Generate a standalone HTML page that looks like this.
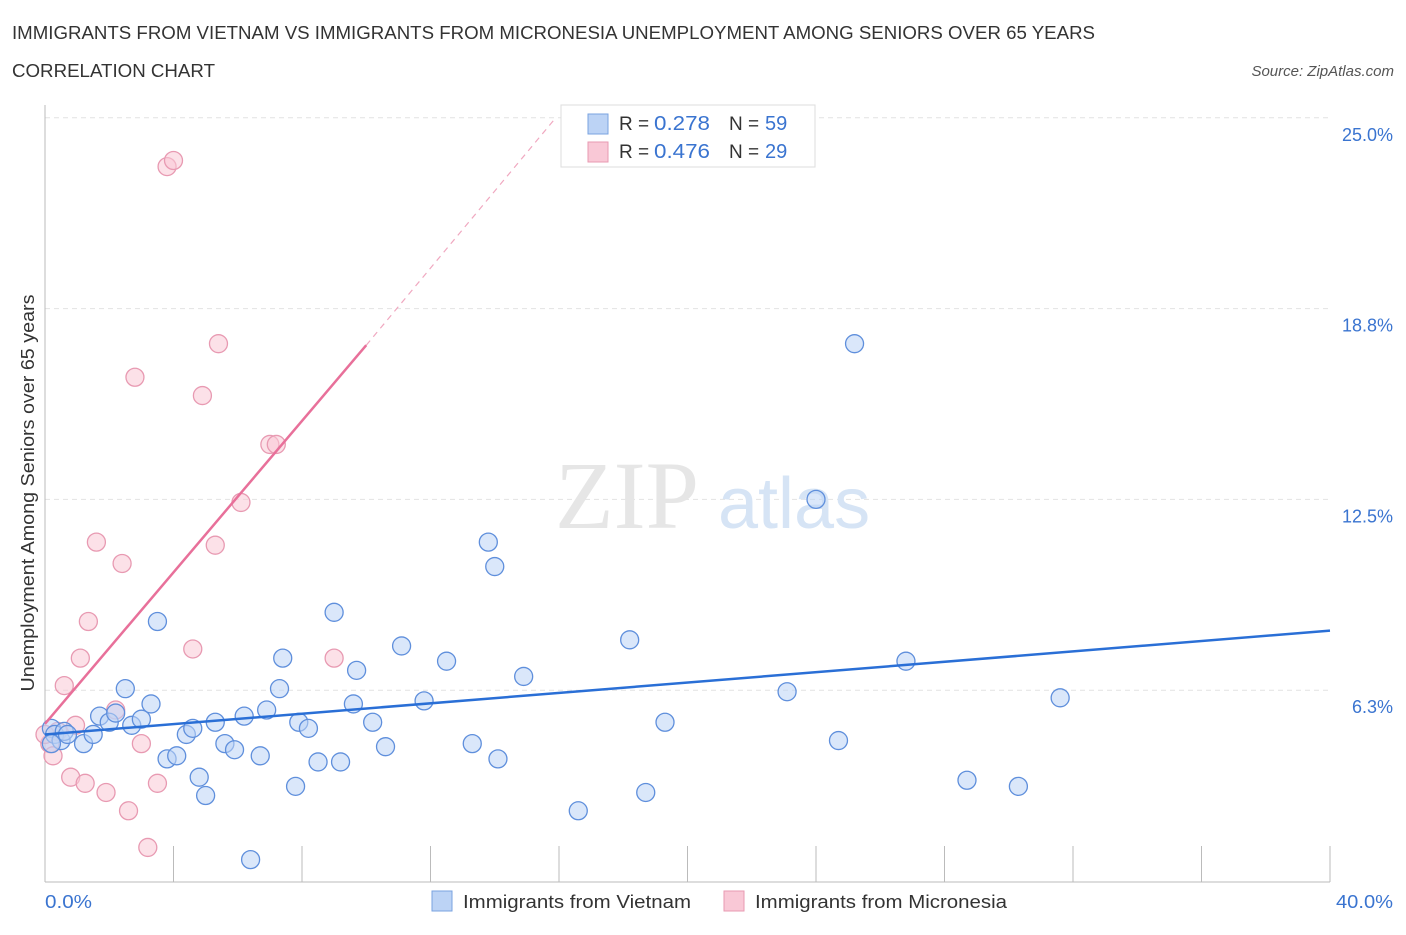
<!DOCTYPE html>
<html><head><meta charset="utf-8"><style>
body{margin:0;background:#fff;font-family:"Liberation Sans",sans-serif;}
svg text{font-family:"Liberation Sans",sans-serif;}
</style></head><body>
<svg width="1406" height="930">
<text x="12" y="39" font-size="18" fill="#333" textLength="1083" lengthAdjust="spacingAndGlyphs">IMMIGRANTS FROM VIETNAM VS IMMIGRANTS FROM MICRONESIA UNEMPLOYMENT AMONG SENIORS OVER 65 YEARS</text>
<text x="12" y="77" font-size="18" fill="#333" textLength="203" lengthAdjust="spacingAndGlyphs">CORRELATION CHART</text>
<text x="1394" y="76" font-size="15" fill="#555" font-style="italic" text-anchor="end">Source: ZipAtlas.com</text>
<g id="grid"></g>
<text x="555" y="528" font-size="96" fill="#e6e6e6" style="font-family:'Liberation Serif',serif">ZIP</text>
<text x="718" y="528" font-size="72" fill="#d6e4f5">atlas</text>
<g id="marks"></g>
<text transform="translate(34,493) rotate(-90)" font-size="18" fill="#333" text-anchor="middle" textLength="397" lengthAdjust="spacingAndGlyphs">Unemployment Among Seniors over 65 years</text>
<text x="45" y="908" font-size="18" fill="#3a74d0" textLength="47" lengthAdjust="spacingAndGlyphs">0.0%</text>
<text x="1336" y="908" font-size="18" fill="#3a74d0" textLength="57" lengthAdjust="spacingAndGlyphs">40.0%</text>
<g>
<rect x="561" y="105" width="254" height="62" fill="#fff" stroke="#ddd"/>
<rect x="588" y="114" width="20" height="20" fill="#bcd3f5" stroke="#7aa3e0"/>
<rect x="588" y="142" width="20" height="20" fill="#f9c8d6" stroke="#e89ab2"/>
<text x="619" y="130" font-size="19" fill="#333">R = </text><text x="654" y="130" font-size="20" fill="#3a74d0" textLength="56" lengthAdjust="spacingAndGlyphs">0.278</text>
<text x="729" y="130" font-size="19" fill="#333">N = </text><text x="765" y="130" font-size="20" fill="#3a74d0">59</text>
<text x="619" y="158" font-size="19" fill="#333">R = </text><text x="654" y="158" font-size="20" fill="#3a74d0" textLength="56" lengthAdjust="spacingAndGlyphs">0.476</text>
<text x="729" y="158" font-size="19" fill="#333">N = </text><text x="765" y="158" font-size="20" fill="#3a74d0">29</text>
</g>
<g>
<rect x="432" y="891" width="20" height="20" fill="#bcd3f5" stroke="#7aa3e0"/>
<text x="463" y="908" font-size="18" fill="#333" textLength="228" lengthAdjust="spacingAndGlyphs">Immigrants from Vietnam</text>
<rect x="724" y="891" width="20" height="20" fill="#f9c8d6" stroke="#e89ab2"/>
<text x="755" y="908" font-size="18" fill="#333" textLength="252" lengthAdjust="spacingAndGlyphs">Immigrants from Micronesia</text>
</g>
</svg>
<script>
const yTicks=[6.25,12.5,18.75,25];
const yTickLabels=["6.3%","12.5%","18.8%","25.0%"];
const vietnamX=[0.2,0.3,0.5,0.6,0.2,0.7,1.2,1.5,1.7,2.0,2.2,2.5,2.7,3.0,3.3,3.5,3.8,4.1,4.4,4.6,4.8,5.0,5.3,5.6,5.9,6.2,6.4,6.7,6.9,7.3,7.4,7.8,7.9,8.2,8.5,9.0,9.2,9.6,9.7,10.2,10.6,11.1,11.8,12.5,13.3,13.8,14.0,14.1,14.9,16.6,18.2,18.7,19.3,23.1,24.0,24.7,25.2,26.8,28.7,30.3,31.6];
const vietnamY=[5.0,4.8,4.6,4.9,4.5,4.8,4.5,4.8,5.4,5.2,5.5,6.3,5.1,5.3,5.8,8.5,4.0,4.1,4.8,5.0,3.4,2.8,5.2,4.5,4.3,5.4,0.7,4.1,5.6,6.3,7.3,3.1,5.2,5.0,3.9,8.8,3.9,5.8,6.9,5.2,4.4,7.7,5.9,7.2,4.5,11.1,10.3,4.0,6.7,2.3,7.9,2.9,5.2,6.2,12.5,4.6,17.6,7.2,3.3,3.1,6.0];
const microX=[0.15,0.25,0.4,0.6,0.8,0.95,1.1,1.25,1.35,1.6,1.9,2.2,2.4,2.6,2.8,3.0,3.2,3.5,3.8,4.0,4.6,4.9,5.3,5.4,6.1,7.0,7.2,9.0,0.0];
const microY=[4.5,4.1,4.9,6.4,3.4,5.1,7.3,3.2,8.5,11.1,2.9,5.6,10.4,2.3,16.5,4.5,1.1,3.2,23.4,23.6,7.6,15.9,11.0,17.6,12.4,14.3,14.3,7.3,4.8];
const blueTrend=[[0,4.8],[40,8.2]];
const pinkTrend=[[0,5.15],[10,17.55]];
const pinkDash=[[10,17.55],[15.9,25.0]];
const X=v=>45+v*32.125, Y=v=>881-v*30.53;
const NS="http://www.w3.org/2000/svg";
const g=document.getElementById('grid'), m=document.getElementById('marks');
function mk(tag,attrs,parent){const e=document.createElementNS(NS,tag);for(const k in attrs)e.setAttribute(k,attrs[k]);parent.appendChild(e);return e;}
yTicks.forEach((t,i)=>{
 const l=mk('line',{x1:45,x2:1330,y1:Y(t),y2:Y(t),stroke:'#e2e2e2','stroke-dasharray':'5,4'},g);
 
 
 const tx=mk('text',{x:1393,y:Y(t)+23,'font-size':18,fill:'#3a74d0','text-anchor':'end'},g);
 tx.textContent=yTickLabels[i];
 
 
});
const ax=mk('line',{x1:45,x2:45,y1:105,y2:882,stroke:'#bbb'},g);


const bx=mk('line',{x1:45,x2:1330,y1:882,y2:882,stroke:'#bbb'},g);


for(let i=1;i<=10;i++){const t=mk('line',{x1:X(i*4),x2:X(i*4),y1:846,y2:882,stroke:'#bbb'},g);
 
 }
function pts(xs,ys,fill,stroke,name){xs.forEach((x,i)=>{const c=mk('circle',{cx:X(x),cy:Y(ys[i]),r:9,fill:fill,'fill-opacity':0.55,stroke:stroke,'stroke-width':1.3},m);
 
 });}
pts(microX,microY,'#f9c8d6','#e89ab2','micronesia-point');
pts(vietnamX,vietnamY,'#bcd3f5','#5f8fdc','vietnam-point');
function ln(p,stroke,w,dash,name){const l=mk('line',{x1:X(p[0][0]),y1:Y(p[0][1]),x2:X(p[1][0]),y2:Y(p[1][1]),stroke:stroke,'stroke-width':w},m);if(dash)l.setAttribute('stroke-dasharray',dash);
 
 }
ln(blueTrend,'#2a6fd6',2.5,null,'vietnam-trendline');
ln(pinkTrend,'#e8709a',2.5,null,'micronesia-trendline');
ln(pinkDash,'#f0a8c0',1.2,'6,5','micronesia-trendline-extension');
</script>
</body></html>
